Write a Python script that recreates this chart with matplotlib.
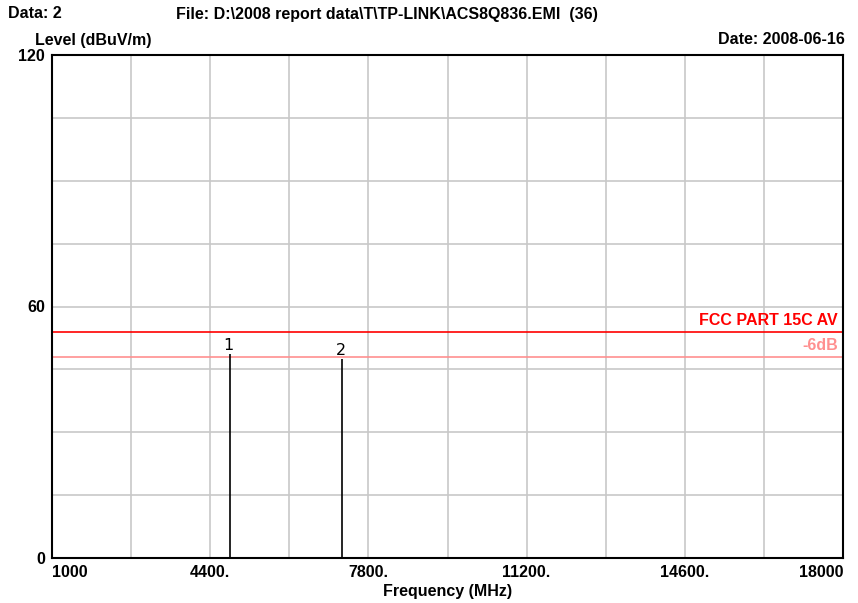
import matplotlib
matplotlib.use("Agg")
from matplotlib import pyplot as plt

# chart data
freq_limits = [1000, 18000]
level_limits = [0, 120]
x_ticks = [1000, 4400, 7800, 11200, 14600, 18000]
x_tick_labels = ['1000', '4400.', '7800.', '11200.', '14600.', '18000']
y_ticks = [0, 60, 120]
limit_fcc = 54
limit_margin = 48
marker_freq = [4824, 7236]
marker_level = [48.7, 47.5]
marker_names = ['1', '2']

plt.rcParams['font.family'] = ['Liberation Sans', 'DejaVu Sans']
plt.rcParams['font.weight'] = 'bold'
plt.rcParams['axes.labelweight'] = 'bold'

fs = 11.5

fig = plt.figure(figsize=(8.58, 6.03), dpi=100)
ax = fig.add_axes([52 / 858, 1 - 558 / 603, (843 - 52) / 858, (558 - 55) / 603])

ax.set_xlim(freq_limits)
ax.set_ylim(level_limits)

# grid: 10 x divisions, 8 y divisions
for i in range(1, 10):
    ax.axvline(freq_limits[0] + i * 1700, color='#c8c8c8', lw=1.2, zorder=0)
for i in range(1, 8):
    ax.axhline(i * 15, color='#c8c8c8', lw=1.2, zorder=0)

ax.axhline(limit_fcc, color='#ff0000', lw=1.2)
ax.axhline(limit_margin, color='#ff9090', lw=1.2)
ax.text(17890, limit_fcc + 0.9, 'FCC PART 15C AV', color='#ff0000', ha='right', va='bottom', fontsize=fs)
ax.text(17890, limit_margin + 0.9, '-6dB', color='#ff9090', ha='right', va='bottom', fontsize=fs)

ax.vlines(marker_freq, 0, marker_level, color='black', lw=1.2)
for f, lv, name in zip(marker_freq, marker_level, marker_names):
    ax.text(f - 30, lv + 0.3, name, ha='center', va='bottom', fontsize=11.5, fontweight='normal',
            family=['DejaVu Sans'])

ax.set_xticks(x_ticks)
ax.set_xticklabels(x_tick_labels, fontsize=fs)
labels = ax.get_xticklabels()
labels[0].set_ha('left')
labels[-1].set_ha('right')
ax.set_yticks(y_ticks)
ax.set_yticklabels([str(v) for v in y_ticks], fontsize=fs)
ax.tick_params(length=0, pad=5)
for s in ax.spines.values():
    s.set_linewidth(1.5)

ax.set_xlabel('Frequency (MHz)', fontsize=fs, labelpad=3)

fig.text(8 / 858, 1 - 14 / 603, 'Data: 2', ha='left', va='center', fontsize=fs)
fig.text(176 / 858, 1 - 14 / 603, 'File: D:\\2008 report data\\T\\TP-LINK\\ACS8Q836.EMI  (36)',
         ha='left', va='center', fontsize=fs)
fig.text(35 / 858, 1 - 40 / 603, 'Level (dBuV/m)', ha='left', va='center', fontsize=fs)
fig.text(845 / 858, 1 - 40 / 603, 'Date: 2008-06-16', ha='right', va='center', fontsize=fs)

fig.savefig('out.png', dpi=100)
